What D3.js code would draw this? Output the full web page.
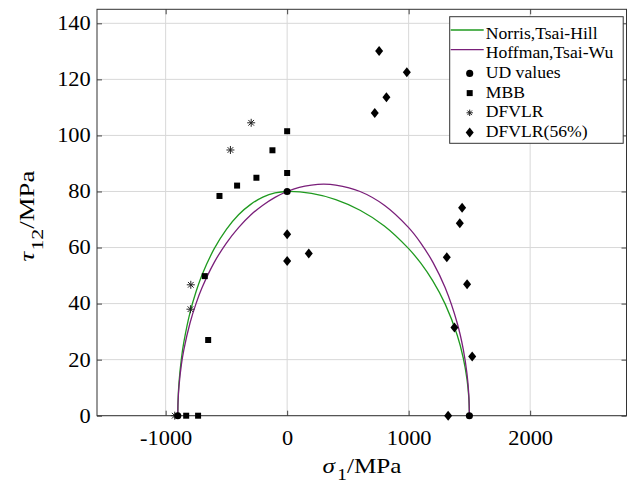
<!DOCTYPE html>
<html><head><meta charset="utf-8">
<script src="https://cdn.jsdelivr.net/npm/d3@7"></script>
<style>body{margin:0;background:#fff} svg text{font-family:"Liberation Serif","Times New Roman",serif;}</style>
</head><body><svg id="c" width="627" height="486"></svg>
<script>
// ---- data ----
const xTicks = [-1000, 0, 1000, 2000];
const yTicks = [0, 20, 40, 60, 80, 100, 120, 140];

// Norris / Tsai-Hill envelope (sigma1, tau12)
const hillSigma = [-900,-898,-890,-870,-850,-800,-750,-700,-600,-500,-400,-300,-200,-100,0,200,400,600,800,1000,1100,1200,1300,1400,1450,1480,1495,1500];
const hillTau   = [0,5.3,11.9,20.5,26.3,36.7,44.2,50.3,59.6,66.5,71.7,75.4,78.0,79.5,80,79.3,77.1,73.3,67.7,59.6,54.4,48.0,39.9,28.7,20.5,13.0,6.5,0];
// Hoffman / Tsai-Wu envelope
const wuSigma = [-900,-898,-890,-870,-850,-800,-750,-700,-600,-500,-400,-300,-200,-100,0,100,200,300,400,600,800,1000,1100,1200,1300,1400,1450,1480,1495,1500];
const wuTau   = [0,4.8,10.6,18.4,23.6,33.0,40.0,45.7,54.7,61.6,67.1,71.6,75.1,77.9,80,81.5,82.3,82.6,82.3,80.0,75.1,67.1,61.6,54.7,45.7,33.0,23.6,15.0,7.5,0];

// UD values
const udSigma = [-900, 0, 1500];
const udTau   = [0, 80, 0];
// MBB
const mbbSigma = [0,-121,0,-253,-412,-557,-678,-650,-831,-733];
const mbbTau   = [101.5,94.7,86.6,84.9,82.1,78.4,49.8,27.0,0,0];
// DFVLR
const dfSigma = [-296,-467,-793,-796,-925];
const dfTau   = [104.5,94.8,46.7,38.0,0];
// DFVLR(56%)
const df56Sigma = [0,0,178,757,985,817,721,1440,1421,1314,1481,1377,1523,1325];
const df56Tau   = [64.7,55.2,57.9,130.1,122.5,113.6,108.0,74.2,68.7,56.5,46.9,31.5,21.1,0];

const legendLabels = ["Norris,Tsai-Hill","Hoffman,Tsai-Wu","UD values","MBB","DFVLR","DFVLR(56%)"];

// ---- drawing ----
const svg = d3.select("#c");
const L = 97, R = 626.5, T = 9.3, B = 415.7;
const x = d3.scaleLinear().domain([-1565, 2793]).range([L, R]);
const y = d3.scaleLinear().domain([0, 145]).range([B, T]);
const font = '"Liberation Serif","Times New Roman",serif';
const green = "#1f9a1f", purple = "#7a1f7a";
const fmt = d => String(d);
const sx = 1.12; // horizontal glyph widening seen in the reference

// grid
const g = svg.append("g");
g.selectAll(".gx").data(xTicks).enter().append("line")
  .attr("x1", d=>x(d)).attr("x2", d=>x(d)).attr("y1", T).attr("y2", B)
  .attr("stroke", "#d8d8d8").attr("stroke-width", 1);
g.selectAll(".gy").data(yTicks).enter().append("line")
  .attr("x1", L).attr("x2", R).attr("y1", d=>y(d)).attr("y2", d=>y(d))
  .attr("stroke", "#d8d8d8").attr("stroke-width", 1);

// axes
const ax = svg.append("g").attr("transform", `translate(0,${B})`)
  .call(d3.axisBottom(x).tickValues(xTicks).tickFormat(fmt).tickSizeInner(-5).tickSizeOuter(0).tickPadding(15));
const ay = svg.append("g").attr("transform", `translate(${L},0)`)
  .call(d3.axisLeft(y).tickValues(yTicks).tickFormat(fmt).tickSizeInner(-5).tickSizeOuter(0).tickPadding(6));
const axT = svg.append("g").attr("transform", `translate(0,${T})`)
  .call(d3.axisTop(x).tickValues(xTicks).tickSizeInner(-5).tickSizeOuter(0).tickFormat(""));
const ayR = svg.append("g").attr("transform", `translate(${R},0)`)
  .call(d3.axisRight(y).tickValues(yTicks).tickSizeInner(-5).tickSizeOuter(0).tickFormat(""));
[ax, ay, axT, ayR].forEach(a => {
  a.attr("font-family", null);
  a.select(".domain").remove();
  a.selectAll("line").attr("stroke", "#444");
  a.selectAll("text").style("font-family", font).attr("font-size", 20).attr("fill", "#000");
});
ax.selectAll("text").attr("transform", `scale(${sx},1)`);
ay.selectAll("text").attr("x", -6.3 / sx).attr("transform", `scale(${sx},1)`);
svg.append("rect").attr("x", L).attr("y", T).attr("width", R-L).attr("height", B-T)
  .attr("fill", "none").attr("stroke", "#333").attr("stroke-width", 1);

// curves
const line = d3.line().x(d=>x(d[0])).y(d=>y(d[1])).curve(d3.curveCatmullRom.alpha(0.5));
svg.append("path").datum(d3.zip(hillSigma, hillTau)).attr("d", line)
  .attr("fill", "none").attr("stroke", green).attr("stroke-width", 1.3);
svg.append("path").datum(d3.zip(wuSigma, wuTau)).attr("d", line)
  .attr("fill", "none").attr("stroke", purple).attr("stroke-width", 1.3);

// markers
const circlePath = d3.symbol().type(d3.symbolCircle).size(40)();
const squarePath = d3.symbol().type(d3.symbolSquare).size(36)();
const diamondPath = "M0,-5L4,0L0,5L-4,0Z";
function star(r) {
  let p = "";
  for (let i = 0; i < 4; i++) {
    const a = i * Math.PI / 4;
    const dx = r*Math.cos(a), dy = r*Math.sin(a);
    p += `M${-dx},${-dy}L${dx},${dy}`;
  }
  return p;
}
function drawPts(xs, ys, kind, group) {
  const sel = group.selectAll(null).data(d3.zip(xs, ys)).enter().append("path")
    .attr("transform", d => `translate(${x(d[0])},${y(d[1])})`);
  if (kind === "star") sel.attr("d", star(4)).attr("stroke", "#222").attr("stroke-width", 1).attr("fill", "none");
  else if (kind === "diamond") sel.attr("d", diamondPath).attr("fill", "#000");
  else if (kind === "square") sel.attr("d", squarePath).attr("fill", "#000");
  else sel.attr("d", circlePath).attr("fill", "#000");
}
const pg = svg.append("g");
drawPts(mbbSigma, mbbTau, "square", pg);
drawPts(dfSigma, dfTau, "star", pg);
drawPts(df56Sigma, df56Tau, "diamond", pg);
drawPts(udSigma, udTau, "circle", pg);

// legend
const lg = svg.append("g");
const lx = 449.7, ly = 16.7, lw = 173.5, lh = 126.6;
lg.append("rect").attr("x", lx).attr("y", ly).attr("width", lw).attr("height", lh)
  .attr("fill", "#fff").attr("stroke", "#333").attr("stroke-width", 1);
legendLabels.forEach((lab, i) => {
  const base = 38.5 + i * 19.7;
  if (i < 2) {
    const cy = base - 8.5;
    lg.append("line").attr("x1", lx + 1).attr("x2", lx + 34).attr("y1", cy).attr("y2", cy)
      .attr("stroke", i === 0 ? green : purple).attr("stroke-width", 1.3);
  } else {
    const cy = base - 4.5;
    const p = lg.append("path").attr("transform", `translate(${lx+20},${cy})`);
    if (i === 2) p.attr("d", circlePath).attr("fill", "#000");
    if (i === 3) p.attr("d", squarePath).attr("fill", "#000");
    if (i === 4) p.attr("d", star(3.2)).attr("stroke", "#222").attr("fill", "none");
    if (i === 5) p.attr("d", diamondPath).attr("fill", "#000");
  }
  lg.append("text").attr("transform", `translate(${lx + 36},${base}) scale(1.07,1)`).text(lab)
    .style("font-family", font).attr("font-size", 16.5).attr("fill", "#000");
});

// axis titles
const xt = svg.append("text").attr("transform", "translate(362,473) scale(1.2,1)").attr("text-anchor", "middle")
  .style("font-family", font).attr("font-size", 21).attr("fill", "#000");
xt.append("tspan").attr("font-style", "italic").text("σ");
xt.append("tspan").attr("font-size", 16).attr("dx", 2).attr("dy", 7).text("1");
xt.append("tspan").attr("dy", -7).text("/MPa");

const yt = svg.append("text").attr("transform", "translate(33.5,216) rotate(-90) scale(1.28,1)").attr("text-anchor", "middle")
  .style("font-family", font).attr("font-size", 21).attr("fill", "#000");
yt.append("tspan").attr("font-style", "italic").text("τ");
yt.append("tspan").attr("font-size", 17).attr("dx", 1).attr("dy", 9).text("12");
yt.append("tspan").attr("dy", -9).text("/MPa");
</script></body></html>
